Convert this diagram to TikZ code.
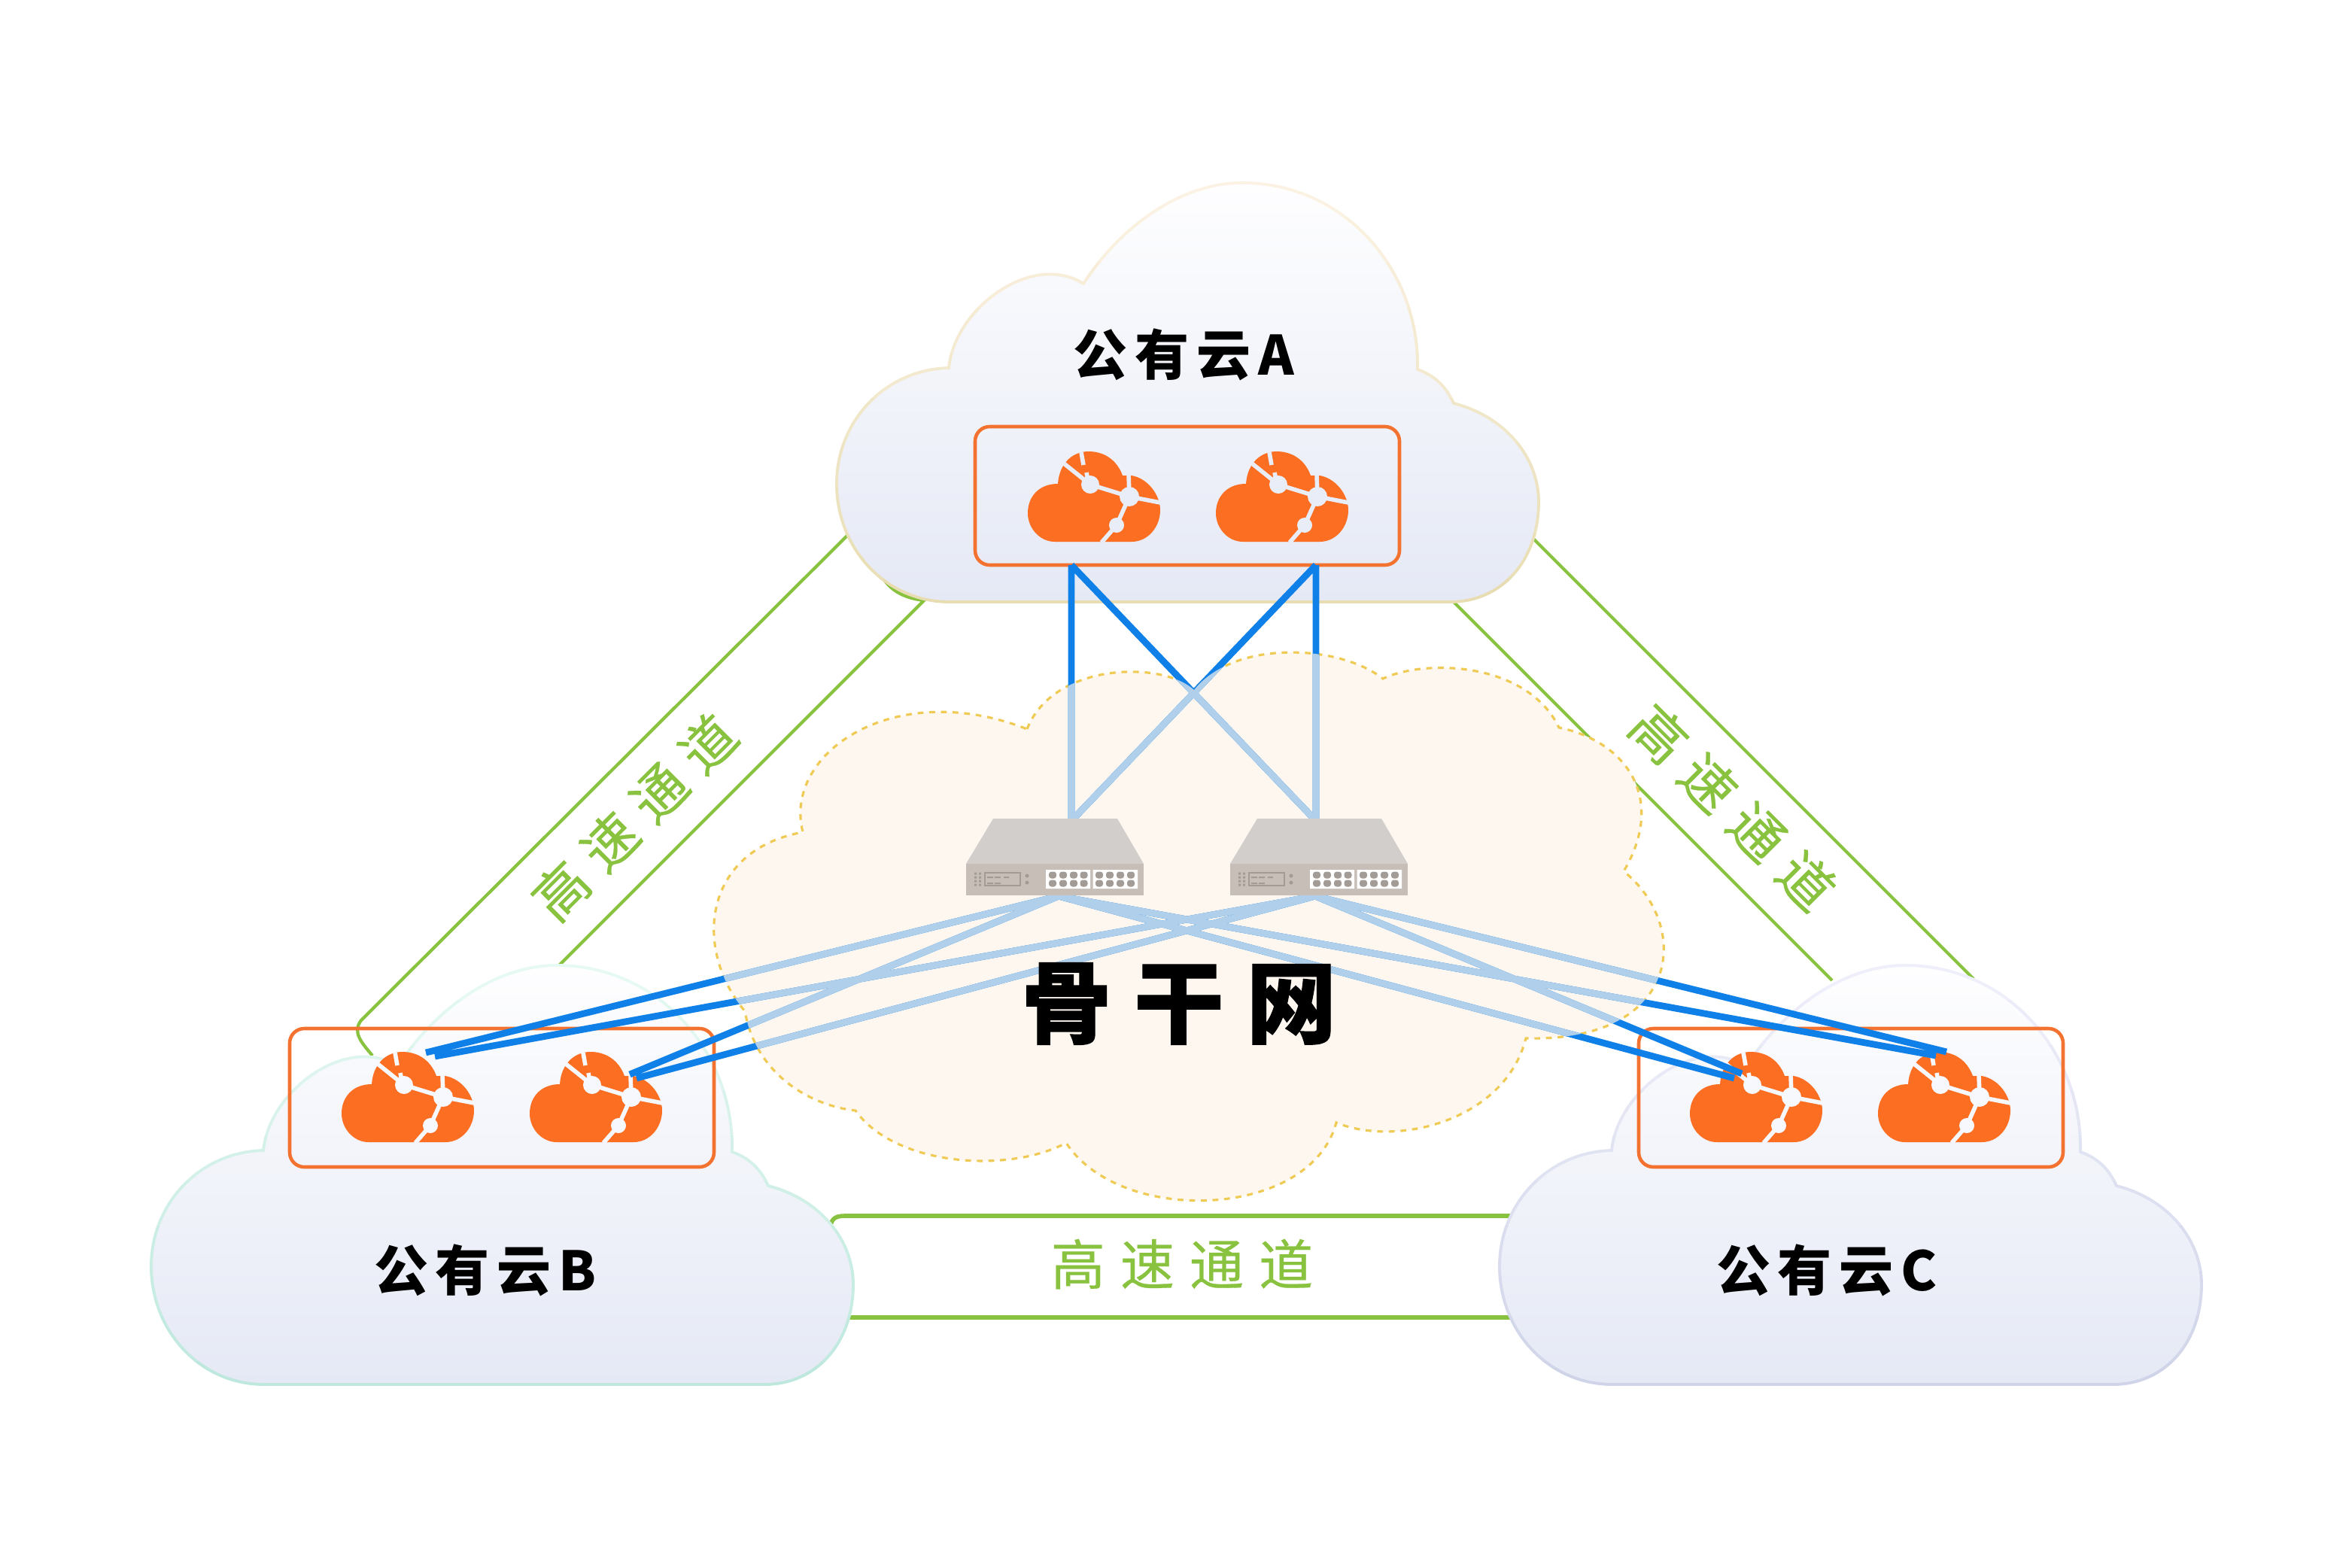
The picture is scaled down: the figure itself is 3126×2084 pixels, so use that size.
\documentclass[tikz,border=0pt]{standalone}
\usepackage{fontspec}
\newfontfamily\cjk{Noto Sans CJK SC}
\definecolor{cloudtop}{HTML}{FEFEFF}
\definecolor{cloudbot}{HTML}{E5E9F5}
\definecolor{creamlo}{HTML}{E8DDB2}
\definecolor{creamhi}{HTML}{FBF2E3}
\definecolor{mintlo}{HTML}{BEE8DD}
\definecolor{minthi}{HTML}{E6F9F3}
\definecolor{lilaclo}{HTML}{CFD4E8}
\definecolor{lilachi}{HTML}{EEEFFA}
\definecolor{orangeicon}{HTML}{FC6E22}
\definecolor{orangebox}{HTML}{F4722F}
\definecolor{linkblue}{HTML}{0F80E8}
\definecolor{linklight}{HTML}{AFCFEA}
\definecolor{bandgreen}{HTML}{88C23F}
\definecolor{dashyellow}{HTML}{EFCB55}
\definecolor{corefill}{HTML}{FEF7F0}
\definecolor{swtop}{HTML}{D2CECB}
\definecolor{swfront}{HTML}{C6BEB7}
\definecolor{swport}{HTML}{A39C96}
\definecolor{iconbga}{HTML}{E9EDF7}
\definecolor{iconbgb}{HTML}{F7F8FD}
\begin{document}
\begin{tikzpicture}[x=0.01cm,y=-0.01cm]
 \tikzstyle{band} = [draw=bandgreen,line width=1.2pt]
 \tikzstyle{corecloud} = [fill=corefill,draw=dashyellow,line width=0.9pt,dash pattern=on 2.2pt off 2.2pt]
 \tikzstyle{innerbox} = [draw=orangebox,line width=1.3pt,rounded corners=5.5pt]
 \tikzstyle{mainlink} = [draw=linkblue,line width=2.5pt]
 \tikzstyle{corelink} = [draw=linklight,line width=2.5pt]
 \tikzstyle{title} = [inner sep=0,font=\cjk\bfseries\fontsize{20.5}{24}\selectfont]
 \tikzstyle{bandtext} = [inner sep=0,text=bandgreen,font=\cjk\fontsize{20.5}{24}\selectfont\addfontfeature{FakeBold=0.4}]

 \newcommand{\cloudoutline}{(1264,490) .. controls (1272,410) and (1375,335) .. (1443,378)
   .. controls (1490,305) and (1570,244) .. (1654,244) .. controls (1790,244) and (1890,360) .. (1887,492)
   .. controls (1910,500) and (1925,515) .. (1935,537) .. controls (2005,555) and (2048,610) .. (2048,668)
   .. controls (2048,745) and (2000,801) .. (1930,801) -- (1265,801)
   .. controls (1180,801) and (1115,730) .. (1115,644) .. controls (1115,560) and (1180,492) .. (1264,490) -- cycle}
 \newcommand{\coreoutline}{(1365,969) .. controls (1400,880) and (1545,878) .. (1587,917)
   .. controls (1640,850) and (1780,856) .. (1838,902) .. controls (1895,875) and (2030,880) .. (2072,967)
   .. controls (2160,985) and (2216,1060) .. (2158,1158) .. controls (2248,1230) and (2236,1385) .. (2028,1380)
   .. controls (2000,1490) and (1855,1525) .. (1776,1492) .. controls (1742,1620) and (1490,1630) .. (1417,1519)
   .. controls (1340,1560) and (1190,1550) .. (1137,1476) .. controls (1080,1470) and (1005,1430) .. (990,1344)
   .. controls (920,1260) and (935,1130) .. (1067,1106) .. controls (1040,1000) and (1190,900) .. (1365,969) -- cycle}
 \newcommand{\cloudshape}[4]{
  \begin{scope}[shift={(#1,#2)}]
   \path[top color=cloudtop,bottom color=cloudbot] \cloudoutline;
   \foreach \k in {0,...,9} {
    \pgfmathtruncatemacro{\pct}{\k*11}
    \begin{scope}
     \clip (1090,{230+\k*60}) rectangle (2080,{230+(\k+1)*60});
     \draw[line width=1.1pt,#4!\pct!#3] \cloudoutline;
    \end{scope}
   }
  \end{scope}
 }
 \newcommand{\cloudicon}[3]{
  \begin{scope}[shift={(#1,#2)}]
   \fill[orangeicon] (36,120) -- (138,120) .. controls (160,120) and (176,100) .. (176,78)
     .. controls (176,58) and (160,36) .. (138,32) -- (126,32) .. controls (118,10) and (100,0) .. (81,0)
     .. controls (60,0) and (42,15) .. (40,43) .. controls (15,43) and (0,60) .. (0,82)
     .. controls (0,102) and (16,120) .. (36,120) -- cycle;
   \draw[#3,line width=1.6pt] (48,16) -- (83,44) -- (135,60) -- (176,68);
   \draw[#3,line width=1.6pt] (134,30) -- (135,60) -- (118,98) -- (98,121);
   \draw[#3,line width=1.6pt] (71,1) -- (74,18) (78,28) -- (80,38);
   \fill[#3] (83,44) circle (12) (135,60) circle (13) (118,98) circle (10);
  \end{scope}
 }
 \newcommand{\switchbox}[1]{
  \begin{scope}[shift={(#1,1088)}]
   \fill[swtop] (36,0) -- (201,0) -- (236,60) -- (0,60) -- cycle;
   \fill[swfront] (0,60) rectangle (236,102);
   \fill[white] (106,68) rectangle (165,93) (168.5,68) rectangle (228,93);
   \foreach \px in {115,129,143,156.5,177,191,205,219} {
    \foreach \py in {75,86} {
     \fill[swport,rounded corners=1pt] (\px-5,\py+4.5) rectangle (\px+5,\py-4.5);
    }
   }
   \foreach \py in {73,78,83,88} {
    \fill[swport] (11,\py-1.5) rectangle (14,\py+1.5) (17,\py-1.5) rectangle (20,\py+1.5);
   }
   \draw[swport,line width=0.3pt] (25,72) rectangle (72,89);
   \fill[swport] (28,70+7) rectangle (36,79) (38,77) rectangle (46,79) (50,77) rectangle (57,79)
     (28,85) rectangle (36,87) (38,85) rectangle (46,87);
   \fill[swport] (81,76) circle (2.5) (81,85) circle (2.5);
  \end{scope}
 }

 \path[fill=white,use as bounding box] (0,0) rectangle (3126,2084);

 \coordinate (a1) at (1424,751);
 \coordinate (a2) at (1749,751);
 \coordinate (s1t) at (1424,1091);
 \coordinate (s2t) at (1749,1091);
 \coordinate (s1b) at (1407,1191);
 \coordinate (s2b) at (1748,1191);
 \coordinate (b1p) at (566,1399);
 \coordinate (b1q) at (578,1404);
 \coordinate (b2p) at (837,1428);
 \coordinate (b2q) at (846,1433);
 \coordinate (c1p) at (2305,1433);
 \coordinate (c1q) at (2315,1427);
 \coordinate (c2p) at (2573,1403);
 \coordinate (c2q) at (2587,1398);
 \newcommand{\linkpaths}{(a1) -- (s1t) (a1) -- (s2t) (a2) -- (s1t) (a2) -- (s2t)
   (s1b) -- (b1p) (s2b) -- (b1q) (s1b) -- (b2p) (s2b) -- (b2q)
   (s1b) -- (c1p) (s2b) -- (c1q) (s1b) -- (c2p) (s2b) -- (c2q)}

 % Bands behind the clouds
 \draw[band] (495,1403) .. controls (480,1385) and (468,1372) .. (480,1356) -- (1170,668) -- (1165,750)
   .. controls (1175,780) and (1195,794) .. (1228,798) -- (741,1285);
 \draw[band] (2435,1303) -- (1925,793) -- (2000,678) -- (2623,1301);
 \draw[band,line width=1.6pt] (1103,1636) .. controls (1104,1621) and (1108,1616) .. (1123,1616) -- (2030,1616) -- (2030,1751) -- (1125,1751);

 % Backbone
 \path[corecloud] \coreoutline;

 % Clouds
 \cloudshape{-3}{-1}{creamhi}{creamlo}
 \cloudshape{-914}{1039}{minthi}{mintlo}
 \cloudshape{878}{1039}{lilachi}{lilaclo}

 % Boxes and icons
 \draw[innerbox] (1296,567) rectangle (1860,751);
 \draw[innerbox] (385,1367) rectangle (949,1551);
 \draw[innerbox] (2178,1367) rectangle (2742,1551);
 \cloudicon{1366}{600}{iconbga}
 \cloudicon{1616}{600}{iconbga}
 \cloudicon{454}{1398}{iconbgb}
 \cloudicon{704}{1398}{iconbgb}
 \cloudicon{2246}{1398}{iconbgb}
 \cloudicon{2496}{1398}{iconbgb}

 % Links, paler inside the backbone
 \draw[mainlink] \linkpaths;
 \begin{scope}
  \clip \coreoutline;
  \draw[corelink] \linkpaths;
 \end{scope}

 % Switches
 \switchbox{1284}
 \switchbox{1635}

 % Labels
 \node[title] (la) at (1573,471) {公\hspace{2.8pt}有\hspace{2.8pt}云\hspace{2.8pt}A};
 \node[title] (lb) at (645,1688) {公\hspace{2.8pt}有\hspace{2.8pt}云\hspace{2.8pt}B};
 \node[title] (lc) at (2428,1688) {公\hspace{2.8pt}有\hspace{2.8pt}云\hspace{2.8pt}C};
 \node[inner sep=0,font=\cjk\bfseries\fontsize{34}{40}\selectfont\addfontfeature{FakeBold=1}] (core) at (1567,1334) {骨\hspace{8.5pt}干\hspace{8.5pt}网};
 \node[bandtext] (tb) at (1571,1680) {高\hspace{5.7pt}速\hspace{5.7pt}通\hspace{5.7pt}道};
 \node[bandtext,rotate=45] (tl) at (843,1086) {高\hspace{5.7pt}速\hspace{5.7pt}通\hspace{5.7pt}道};
 \node[bandtext,rotate=-45] (tr) at (2303,1073) {高\hspace{5.7pt}速\hspace{5.7pt}通\hspace{5.7pt}道};

\end{tikzpicture}
\end{document}
